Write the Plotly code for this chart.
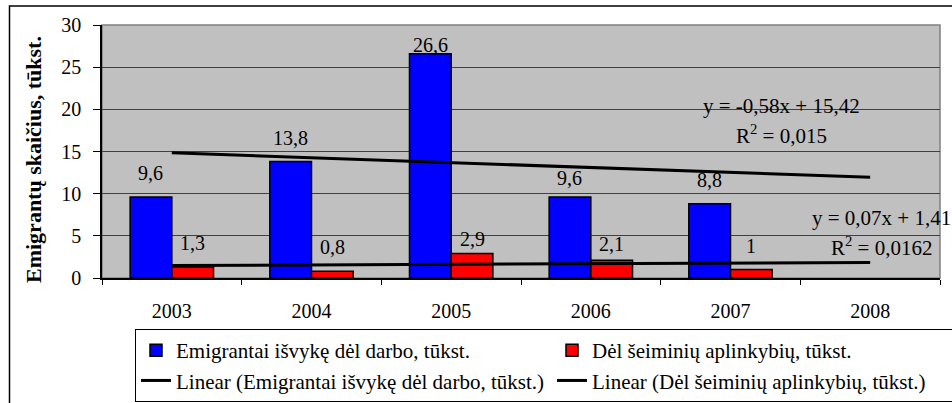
import numpy as np
import plotly.graph_objects as go

# ---- data ----
years = ["2003", "2004", "2005", "2006", "2007", "2008"]
bar_years = ["2003", "2004", "2005", "2006", "2007"]
work = [9.6, 13.8, 26.6, 9.6, 8.8]
family = [1.3, 0.8, 2.9, 2.1, 1.0]
y_ticks = [0, 5, 10, 15, 20, 25, 30]

name_work = "Emigrantai išvykę dėl darbo, tūkst."
name_family = "Dėl šeiminių aplinkybių, tūkst."
y_title = "Emigrantų skaičius, tūkst."

# ---- style ----
FONT = "Liberation Serif"
W, H = 952, 403
L, R, T, B = 102, 12, 25, 125
work_shift = [24, 24, 9, 19, 24]
family_shift = [24, 24, 15, 16, 24]


def fmt(v):
    return f"{v:g}".replace(".", ",")


def trend(vals):
    xs = np.arange(1, len(vals) + 1)
    slope, icpt = np.polyfit(xs, vals, 1)
    pred = slope * xs + icpt
    ss_res = np.sum((np.array(vals) - pred) ** 2)
    ss_tot = np.sum((np.array(vals) - np.mean(vals)) ** 2)
    r2 = 1 - ss_res / ss_tot
    full = [slope * (i + 1) + icpt for i in range(len(years))]
    return slope, icpt, r2, full


def eq_text(slope, icpt):
    sign = "+" if icpt >= 0 else "-"
    return f"y = {slope:.2f}x {sign} {abs(icpt):.2f}".replace(".", ",")


def r2_text(r2):
    s = f"{r2:.4f}".rstrip("0").replace(".", ",")
    return f"R<sup>2</sup> = {s}"


sw, iw, rw, tw = trend(work)
sf, i_f, rf, tf = trend(family)

fig = go.Figure()
fig.add_trace(go.Bar(x=bar_years, y=work, name=name_work,
                     marker=dict(color="#0000FF", line=dict(color="black", width=1.5))))
fig.add_trace(go.Bar(x=bar_years, y=family, name=name_family,
                     marker=dict(color="#FF0000", line=dict(color="black", width=1.5))))
fig.add_trace(go.Scatter(x=years, y=tw, mode="lines", name=f"Linear ({name_work})",
                         line=dict(color="black", width=3)))
fig.add_trace(go.Scatter(x=years, y=tf, mode="lines", name=f"Linear ({name_family})",
                         line=dict(color="black", width=3)))

pw = W - L - R
ph = H - T - B
bar_half = 0.5 * (pw / len(years)) * (1 - 0.403) / 2

ann = []
for i, v in enumerate(work):
    ann.append(dict(x=years.index(bar_years[i]), y=v, xref="x", yref="y", text=fmt(v),
                    showarrow=False, xshift=-bar_half, yshift=work_shift[i],
                    xanchor="center", yanchor="middle", font=dict(size=20)))
for i, v in enumerate(family):
    ann.append(dict(x=years.index(bar_years[i]), y=v, xref="x", yref="y", text=fmt(v),
                    showarrow=False, xshift=bar_half, yshift=family_shift[i],
                    xanchor="center", yanchor="middle", font=dict(size=20)))


def px2x(px):
    return (px - L) / pw


def px2y(py):
    return (H - B - py) / ph


def paper_text(px, py, text, size=20, **kw):
    return dict(x=px2x(px), y=px2y(py), xref="paper", yref="paper", text=text,
                showarrow=False, xanchor="center", yanchor="middle",
                font=dict(size=size), **kw)


ann += [
    paper_text(781, 106, eq_text(sw, iw), size=21),
    paper_text(781, 134, r2_text(rw), size=21),
    paper_text(881, 218, eq_text(sf, i_f), size=21),
    paper_text(881, 246, r2_text(rf), size=21),
    paper_text(33, 160, f"<b>{y_title}</b>", size=22, textangle=-90),
]

shapes = [
    dict(type="rect", xref="paper", yref="paper", x0=0, x1=1, y0=0, y1=1,
         line=dict(color="#808080", width=1.5), layer="below"),
    dict(type="rect", xref="paper", yref="paper", x0=px2x(9.5), x1=px2x(W + 20),
         y0=px2y(H + 20), y1=px2y(6), line=dict(color="black", width=1.5), layer="below"),
]

fig.update_layout(
    width=W, height=H,
    margin=dict(l=L, r=R, t=T, b=B, pad=0, autoexpand=False),
    paper_bgcolor="white",
    plot_bgcolor="#C0C0C0",
    font=dict(family=FONT, size=20, color="black"),
    barmode="group", bargap=0.403, bargroupgap=0,
    showlegend=True,
    legend=dict(orientation="h", x=px2x(135), y=px2y(329), xanchor="left", yanchor="top",
                bordercolor="black", borderwidth=1, bgcolor="white",
                entrywidth=371, entrywidthmode="pixels", tracegroupgap=0,
                font=dict(family=FONT, size=21), traceorder="normal"),
    annotations=ann,
    shapes=shapes,
    xaxis=dict(type="category", categoryorder="array", categoryarray=years,
               range=[-0.5, len(years) - 0.5],
               tickson="boundaries", ticks="outside", ticklen=5, tickcolor="black",
               showline=True, linecolor="black", linewidth=1.5, showgrid=False,
               ticklabelstandoff=14, tickfont=dict(size=20)),
    yaxis=dict(range=[0, 30], tickvals=y_ticks, ticks="outside", ticklen=7,
               tickcolor="black", showline=True, linecolor="black", linewidth=1.5,
               showgrid=True, gridcolor="#404040", gridwidth=1, zeroline=False,
               ticklabelstandoff=8, tickfont=dict(size=20)),
)

fig.write_html("out.html", config={"displayModeBar": False},
               post_script="document.body.style.margin='0';document.body.style.padding='0';")
